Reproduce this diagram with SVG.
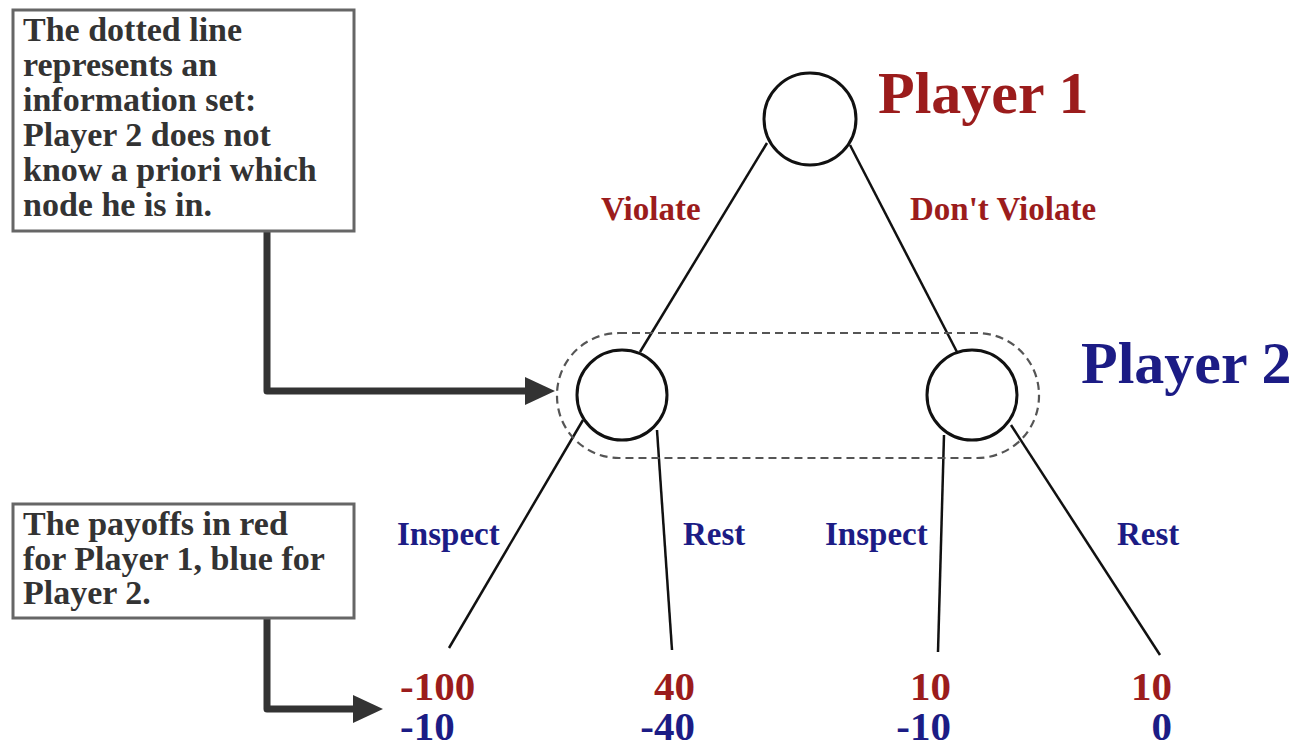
<svg xmlns="http://www.w3.org/2000/svg" width="1295" height="748" viewBox="0 0 1295 748">
<style>
  .bg { fill: #ffffff; }
  .node { fill: #ffffff; stroke: #111; stroke-width: 3; }
  .edge { stroke: #111; stroke-width: 2.5; fill: none; }
  .info { fill: none; stroke: #555; stroke-width: 2.2; stroke-dasharray: 8 5; }
  .note { fill: #ffffff; stroke: #666; stroke-width: 3; }
  .notetext { font-family: "Liberation Serif", "Times New Roman", serif; font-weight: bold; font-size: 34px; fill: #333; }
  .callout { fill: none; stroke: #333; stroke-width: 7; stroke-linejoin: round; }
  .p1 { font-family: "Liberation Serif", "Times New Roman", serif; font-weight: bold; fill: #9b1c1c; }
  .p2 { font-family: "Liberation Serif", "Times New Roman", serif; font-weight: bold; fill: #1c1c85; }
  .title { font-size: 60px; }
  .lbl { font-size: 33px; }
  .pay { font-size: 41px; }
</style>
<defs>
  <marker id="arrow" markerUnits="userSpaceOnUse" markerWidth="32" markerHeight="30" refX="0" refY="14" orient="auto" viewBox="0 0 32 30">
    <path d="M0,0 L30,14 L0,28 z" fill="#333"/>
  </marker>
</defs>
<rect class="bg" x="0" y="0" width="1295" height="748"/>

<g id="connectors">
  <line class="edge" x1="767" y1="143" x2="640" y2="352"/>
  <line class="edge" x1="850" y1="145" x2="957" y2="352"/>
  <line class="edge" x1="583" y1="420" x2="449" y2="648"/>
  <line class="edge" x1="657" y1="430" x2="672" y2="650"/>
  <line class="edge" x1="944" y1="435" x2="938" y2="652"/>
  <line class="edge" x1="1011" y1="425" x2="1160" y2="655"/>
  <path class="callout" d="M267,231 V391 H525" marker-end="url(#arrow)"/>
  <path class="callout" d="M267,618 V709 H353" marker-end="url(#arrow)"/>
</g>

<g id="info-set">
  <rect class="info" x="557" y="333" width="482" height="125" rx="62" ry="62"/>
</g>

<g id="player1-node">
  <circle class="node" cx="810" cy="119" r="46"/>
  <text class="p1 title" x="878" y="113">Player 1</text>
</g>

<g id="player2-left-node">
  <circle class="node" cx="622" cy="395" r="45"/>
</g>

<g id="player2-right-node">
  <circle class="node" cx="972" cy="395" r="45"/>
  <text class="p2 title" x="1081" y="383">Player 2</text>
</g>

<g id="edge-labels">
  <text class="p1 lbl" x="601" y="220">Violate</text>
  <text class="p1 lbl" x="910" y="220">Don't Violate</text>
  <text class="p2 lbl" x="397" y="545">Inspect</text>
  <text class="p2 lbl" x="683" y="545">Rest</text>
  <text class="p2 lbl" x="825" y="545">Inspect</text>
  <text class="p2 lbl" x="1117" y="545">Rest</text>
</g>

<g id="payoff-1">
  <text class="p1 pay" x="400" y="700">-100</text>
  <text class="p2 pay" x="400" y="740">-10</text>
</g>
<g id="payoff-2">
  <text class="p1 pay" x="695" y="700" text-anchor="end">40</text>
  <text class="p2 pay" x="695" y="740" text-anchor="end">-40</text>
</g>
<g id="payoff-3">
  <text class="p1 pay" x="951" y="700" text-anchor="end">10</text>
  <text class="p2 pay" x="951" y="740" text-anchor="end">-10</text>
</g>
<g id="payoff-4">
  <text class="p1 pay" x="1172" y="700" text-anchor="end">10</text>
  <text class="p2 pay" x="1172" y="740" text-anchor="end">0</text>
</g>

<g id="note-info-set">
  <rect class="note" x="13" y="10" width="341" height="221"/>
  <text class="notetext">
    <tspan x="23" y="41">The dotted line</tspan>
    <tspan x="23" y="76">represents an</tspan>
    <tspan x="23" y="111">information set:</tspan>
    <tspan x="23" y="146">Player 2 does not</tspan>
    <tspan x="23" y="181">know a priori which</tspan>
    <tspan x="23" y="216">node he is in.</tspan>
  </text>
</g>

<g id="note-payoffs">
  <rect class="note" x="13" y="504" width="341" height="114"/>
  <text class="notetext">
    <tspan x="23" y="535">The payoffs in red</tspan>
    <tspan x="23" y="570">for Player 1, blue for</tspan>
    <tspan x="23" y="604">Player 2.</tspan>
  </text>
</g>
</svg>
